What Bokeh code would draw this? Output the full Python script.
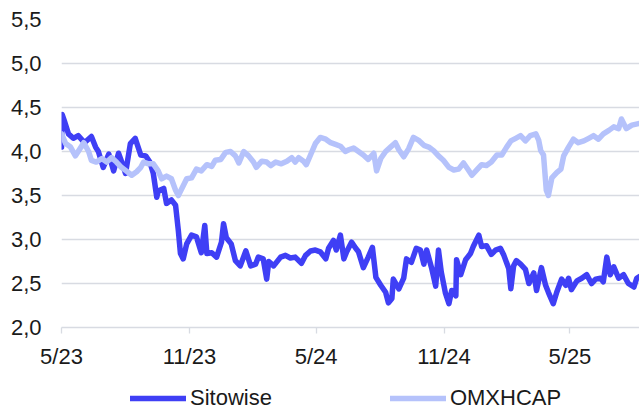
import pandas as pd
from bokeh.plotting import figure
from bokeh.layouts import column
from bokeh.models import (Range1d, FixedTicker, CustomJSTickFormatter, Legend, LegendItem,
                          ColumnDataSource)
from bokeh.embed import file_html
from bokeh.resources import INLINE

START = "2023-05-01"

# Sitowise: days since 2023-05-01 and index values
sito_days = [0, 1, 4, 10, 17, 24, 33, 43, 49, 53, 60, 68, 75, 82, 88, 92, 99, 106, 114, 121,
             127, 132, 137, 139, 147, 151, 158, 164, 168, 171, 175, 180, 187, 194, 201, 206, 209,
             216, 223, 230, 233, 237, 244, 250, 257, 265, 272, 279, 283, 290, 295, 298, 305, 315,
             322, 329, 336, 345, 351, 358, 365, 372, 380, 384, 391, 395, 401, 406, 410, 417, 423,
             427, 434, 441, 447, 452, 459, 466, 470, 475, 477, 485, 492, 496, 503, 510, 516, 521,
             525, 532, 538, 542, 546, 552, 557, 561, 567, 568, 574, 581, 588, 592, 600, 604, 611,
             618, 624, 631, 636, 643, 646, 650, 654, 660, 667, 672, 679, 683, 690, 696, 700, 707,
             712, 719, 725, 729, 733, 741, 748, 755, 762, 768, 775, 779, 784, 789, 794, 801, 808,
             815, 823, 827, 831]
sito_vals = [4.05, 4.42, 4.35, 4.20, 4.15, 4.18, 4.10, 4.17, 4.05, 4.00, 3.82, 3.97, 3.78, 3.98,
             3.85, 3.75, 4.09, 4.15, 3.96, 3.95, 3.88, 3.75, 3.48, 3.55, 3.58, 3.41, 3.45, 3.39,
             3.10, 2.84, 2.78, 2.95, 3.05, 3.03, 2.85, 3.16, 2.84, 2.85, 2.80, 2.97, 3.18, 3.02,
             2.95, 2.76, 2.70, 2.87, 2.70, 2.72, 2.80, 2.78, 2.55, 2.75, 2.70, 2.80, 2.82, 2.79,
             2.80, 2.73, 2.82, 2.87, 2.88, 2.86, 2.78, 2.90, 2.99, 2.88, 3.05, 2.78, 2.86, 2.97,
             2.90, 2.86, 2.68, 2.80, 2.91, 2.57, 2.48, 2.40, 2.28, 2.33, 2.55, 2.44, 2.56, 2.78,
             2.74, 2.90, 2.88, 2.72, 2.88, 2.68, 2.47, 2.88, 2.63, 2.39, 2.27, 2.42, 2.36, 2.77,
             2.60, 2.77, 2.84, 2.92, 3.05, 2.92, 2.93, 2.83, 2.88, 2.90, 2.82, 2.67, 2.44, 2.70,
             2.76, 2.72, 2.66, 2.50, 2.62, 2.42, 2.68, 2.48, 2.40, 2.27, 2.40, 2.55, 2.48, 2.56,
             2.43, 2.53, 2.56, 2.60, 2.50, 2.55, 2.56, 2.52, 2.80, 2.60, 2.69, 2.56, 2.60, 2.50,
             2.46, 2.56, 2.58]

# OMXHCAP: days since 2023-05-01 and index values
omx_days = [0, 6, 13, 20, 24, 32, 39, 43, 50, 58, 65, 72, 79, 86, 93, 101, 108, 114, 118, 125,
            132, 139, 144, 151, 158, 164, 168, 175, 180, 187, 194, 201, 209, 216, 221, 229, 236,
            243, 250, 255, 262, 269, 276, 280, 288, 295, 301, 308, 316, 324, 331, 336, 341, 348,
            352, 358, 365, 372, 380, 387, 394, 401, 408, 413, 420, 427, 434, 441, 449, 453, 459,
            466, 473, 480, 485, 492, 499, 506, 513, 521, 528, 535, 542, 549, 557, 564, 571, 578,
            585, 590, 597, 604, 611, 618, 626, 633, 640, 646, 653, 660, 667, 674, 682, 686, 689,
            693, 697, 700, 705, 712, 718, 722, 729, 736, 743, 751, 758, 765, 772, 779, 787, 794,
            801, 805, 812, 820, 831]
omx_vals = [4.20, 4.09, 4.05, 3.95, 4.00, 4.10, 4.00, 3.90, 3.88, 3.92, 3.88, 3.93, 3.88, 3.82,
            3.78, 3.73, 3.77, 3.82, 3.88, 3.86, 3.86, 3.78, 3.69, 3.72, 3.69, 3.56, 3.50, 3.61,
            3.69, 3.70, 3.80, 3.78, 3.85, 3.83, 3.90, 3.91, 3.99, 4.00, 3.95, 3.87, 4.00, 3.95,
            3.88, 3.82, 3.89, 3.88, 3.84, 3.88, 3.86, 3.89, 3.93, 3.88, 3.93, 3.89, 3.85, 3.96,
            4.09, 4.16, 4.14, 4.10, 4.08, 4.06, 4.00, 4.02, 4.04, 4.00, 3.96, 3.91, 3.98, 3.78,
            3.92, 4.00, 4.05, 4.10, 4.02, 3.94, 4.03, 4.16, 4.13, 4.07, 4.05, 4.01, 3.95, 3.90,
            3.82, 3.79, 3.80, 3.87, 3.79, 3.73, 3.79, 3.85, 3.84, 3.88, 3.96, 3.96, 4.05, 4.12,
            4.15, 4.18, 4.12, 4.18, 4.20, 4.13, 4.01, 3.96, 3.56, 3.50, 3.70, 3.76, 3.80, 3.95,
            4.05, 4.14, 4.10, 4.12, 4.15, 4.18, 4.14, 4.20, 4.24, 4.28, 4.26, 4.37, 4.26, 4.30,
            4.32]

series_names = ["Sitowise", "OMXHCAP"]
x_tick_dates = ["2023-05-01", "2023-11-01", "2024-05-01", "2024-11-01", "2025-05-01"]
y_ticks = [2.0, 2.5, 3.0, 3.5, 4.0, 4.5, 5.0, 5.5]
x_end_day = 831

start = pd.Timestamp(START)
sito_src = ColumnDataSource(dict(x=start + pd.to_timedelta(sito_days, unit="D"), y=sito_vals))
omx_src = ColumnDataSource(dict(x=start + pd.to_timedelta(omx_days, unit="D"), y=omx_vals))

FONT = "Liberation Sans"
GRID = "#d8dbe2"
DARK = "#3f3ff5"
LIGHT = "#b5c2fb"
TEXT = "#1a1a1a"

p = figure(frame_width=578, frame_height=308, x_axis_type="datetime", output_backend="svg",
           toolbar_location=None, min_border_left=61, min_border_right=0, min_border_top=19,
           min_border_bottom=50,
           x_range=Range1d(start, start + pd.Timedelta(days=x_end_day)),
           y_range=Range1d(2.0, 5.5))
p.outline_line_color = None

r1 = p.line("x", "y", source=sito_src, line_color=DARK, line_width=5.5, line_join="round",
            line_cap="round")
r2 = p.line("x", "y", source=omx_src, line_color=LIGHT, line_width=5.5, line_join="round",
            line_cap="round")

p.xgrid.grid_line_color = None
p.ygrid.grid_line_color = GRID
p.ygrid.grid_line_width = 1.3
p.yaxis.ticker = FixedTicker(ticks=y_ticks)
p.yaxis.formatter = CustomJSTickFormatter(code="return tick.toFixed(1).replace('.', ',');")
p.yaxis.axis_line_color = None
p.yaxis.major_tick_line_color = None
p.yaxis.minor_tick_line_color = None
p.yaxis.major_label_standoff = 14
p.yaxis.major_label_text_font = FONT
p.yaxis.major_label_text_font_size = "22px"
p.yaxis.major_label_text_color = TEXT

x_ticks_ms = [pd.Timestamp(d).value // 10**6 for d in x_tick_dates]
p.xaxis.ticker = FixedTicker(ticks=x_ticks_ms)
p.xaxis.formatter = CustomJSTickFormatter(code="""
const d = new Date(tick);
return (d.getUTCMonth() + 1) + '/' + String(d.getUTCFullYear()).slice(2);
""")
p.xaxis.axis_line_color = GRID
p.xaxis.axis_line_width = 1.3
p.xaxis.major_tick_line_color = GRID
p.xaxis.major_tick_line_width = 1.3
p.xaxis.major_tick_out = 6
p.xaxis.major_tick_in = 0
p.xaxis.minor_tick_line_color = None
p.xaxis.major_label_standoff = 10
p.xaxis.major_label_text_font = FONT
p.xaxis.major_label_text_font_size = "22px"
p.xaxis.major_label_text_color = TEXT

# legend strip below the chart (its proxy lines sit outside the visible range)
leg = figure(width=639, height=34, output_backend="svg", toolbar_location=None,
             min_border=0, x_axis_location=None, y_axis_location=None,
             x_range=Range1d(0, 1), y_range=Range1d(0, 1))
leg.outline_line_color = None
leg.xgrid.grid_line_color = None
leg.ygrid.grid_line_color = None
proxy = ColumnDataSource(dict(x=[-5, -4], y=[-5, -4]))
l1 = leg.line("x", "y", source=proxy, line_color=DARK, line_width=5.5, line_cap="round")
l2 = leg.line("x", "y", source=proxy, line_color=LIGHT, line_width=5.5, line_cap="round")
legend = Legend(items=[LegendItem(label=series_names[0], renderers=[l1]),
                       LegendItem(label=series_names[1], renderers=[l2])],
                orientation="horizontal", location=(69, 0),
                label_text_font=FONT, label_text_font_size="22px", label_text_color=TEXT,
                glyph_width=56, glyph_height=16, label_standoff=4, spacing=118,
                border_line_color=None, padding=0, margin=0, background_fill_alpha=0)
leg.add_layout(legend, "center")

layout = column(p, leg, spacing=0)
open("out.html", "w").write(file_html(layout, INLINE))
